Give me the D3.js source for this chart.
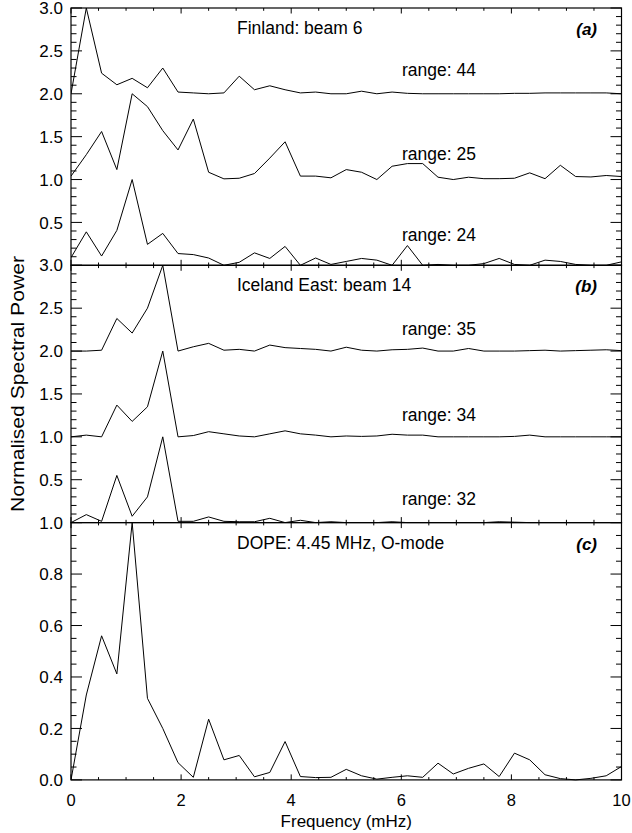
<!DOCTYPE html>
<html>
<head>
<meta charset="utf-8">
<script src="https://cdn.jsdelivr.net/npm/d3@7"></script>
<style>
  body { margin: 0; background: #fff; }
  text { font-family: "Liberation Sans", Arial, sans-serif; fill: #000; }
</style>
</head>
<body>
<script>
// frequency bins (mHz)
var freq = [0, 0.278, 0.556, 0.833, 1.111, 1.389, 1.667, 1.944, 2.222, 2.5, 2.778, 3.056, 3.333,
  3.611, 3.889, 4.167, 4.444, 4.722, 5.0, 5.278, 5.556, 5.833, 6.111, 6.389, 6.667, 6.944,
  7.222, 7.5, 7.778, 8.056, 8.333, 8.611, 8.889, 9.167, 9.444, 9.722, 10.0];

// normalised power, panel (a) Finland beam 6
var fin44 = [0.0, 1.0, 0.24, 0.105, 0.18, 0.07, 0.30, 0.02, 0.01, 0.0, 0.01, 0.205, 0.047, 0.093,
  0.047, 0.01, 0.02, 0.0, 0.0, 0.03, 0.0, 0.02, 0.005, 0.0, 0.0, 0.0, 0.0, 0.0, 0.0, 0.005, 0.005,
  0.01, 0.01, 0.01, 0.01, 0.01, 0.0];
var fin25 = [0.04, 0.29, 0.56, 0.116, 1.0, 0.85, 0.57, 0.345, 0.705, 0.085, 0.008, 0.015, 0.07,
  0.25, 0.44, 0.04, 0.04, 0.02, 0.116, 0.085, 0.0, 0.155, 0.186, 0.186, 0.027, 0.0, 0.027, 0.01,
  0.01, 0.015, 0.078, 0.01, 0.166, 0.035, 0.03, 0.047, 0.035];
var fin24 = [0.09, 0.39, 0.108, 0.407, 1.0, 0.244, 0.372, 0.137, 0.125, 0.085, 0.0, 0.035, 0.145,
  0.08, 0.22, 0.0, 0.085, 0.01, 0.045, 0.08, 0.06, 0.0, 0.23, 0.0, 0.01, 0.0, 0.0, 0.02, 0.08,
  0.01, 0.0, 0.06, 0.045, 0.01, 0.0, 0.0, 0.04];

// panel (b) Iceland East beam 14
var ice35 = [0.0, 0.0, 0.01, 0.38, 0.21, 0.50, 1.0, 0.0, 0.05, 0.09, 0.01, 0.02, 0.0, 0.07, 0.04,
  0.03, 0.02, 0.0, 0.045, 0.01, 0.0, 0.015, 0.02, 0.035, 0.0, 0.0, 0.03, 0.0, 0.0, 0.0, 0.005,
  0.01, 0.0, 0.005, 0.01, 0.015, 0.005];
var ice34 = [0.0, 0.02, 0.0, 0.37, 0.18, 0.35, 1.0, 0.0, 0.015, 0.06, 0.035, 0.01, 0.0, 0.035,
  0.07, 0.035, 0.02, 0.0, 0.01, 0.005, 0.01, 0.03, 0.02, 0.02, 0.0, 0.0, 0.0, 0.0, 0.0, 0.005,
  0.02, 0.0, 0.0, 0.0, 0.0, 0.0, 0.0];
var ice32 = [0.0, 0.093, 0.015, 0.55, 0.074, 0.30, 1.0, 0.015, 0.015, 0.066, 0.015, 0.01, 0.01,
  0.05, 0.0, 0.027, 0.0, 0.01, 0.0, 0.0, 0.0, 0.01, 0.0, 0.0, 0.0, 0.0, 0.0, 0.0, 0.01, 0.005,
  0.0, 0.0, 0.0, 0.0, 0.0, 0.0, 0.0];

// panel (c) DOPE
var dope = [0.0, 0.33, 0.56, 0.412, 1.0, 0.317, 0.20, 0.067, 0.01, 0.236, 0.078, 0.095, 0.012,
  0.029, 0.149, 0.013, 0.009, 0.01, 0.041, 0.016, 0.003, 0.01, 0.016, 0.01, 0.065, 0.023, 0.045,
  0.062, 0.013, 0.104, 0.078, 0.02, 0.005, 0.0, 0.006, 0.016, 0.052];

var xTicks = [0, 2, 4, 6, 8, 10];
var stackTicks = [0.5, 1.0, 1.5, 2.0, 2.5, 3.0];
var singleTicks = [0.0, 0.2, 0.4, 0.6, 0.8, 1.0];

var panels = [
  { title: "Finland: beam 6", tag: "(a)", series: [fin44, fin25, fin24], offsets: [2, 1, 0],
    names: ["range: 44", "range: 25", "range: 24"], nameY: [2.21, 1.23, 0.28],
    ymax: 3, ticks: stackTicks, minor: 0.1 },
  { title: "Iceland East: beam 14", tag: "(b)", series: [ice35, ice34, ice32], offsets: [2, 1, 0],
    names: ["range: 35", "range: 34", "range: 32"], nameY: [2.19, 1.18, 0.2],
    ymax: 3, ticks: stackTicks, minor: 0.1 },
  { title: "DOPE: 4.45 MHz, O-mode", tag: "(c)", series: [dope], offsets: [0],
    names: [], nameY: [], ymax: 1, ticks: singleTicks, minor: 0.05 }
];

var width = 632, height = 833;
var plotL = 71, plotR = 621.5, plotT = 8, panelH = 257.3;

var svg = d3.select("body").append("svg")
  .attr("width", width).attr("height", height);

var x = d3.scaleLinear().domain([0, 10]).range([plotL, plotR]);

panels.forEach(function(p, k) {
  var y0 = plotT + k * panelH, y1 = y0 + panelH;
  var y = d3.scaleLinear().domain([0, p.ymax]).range([y1, y0]);
  var g = svg.append("g");

  g.append("clipPath").attr("id", "clip" + k)
    .append("rect").attr("x", plotL).attr("y", y0 - 1)
    .attr("width", plotR - plotL).attr("height", panelH + 2);

  // lines
  var line = d3.line().x(function(d, i) { return x(freq[i]); });
  p.series.forEach(function(s, j) {
    line.y(function(d) { return y(d + p.offsets[j]); });
    g.append("path").datum(s)
      .attr("d", line)
      .attr("fill", "none").attr("stroke", "#000").attr("stroke-width", 1)
      .attr("clip-path", "url(#clip" + k + ")");
  });

  // frame
  g.append("rect").attr("x", plotL).attr("y", y0)
    .attr("width", plotR - plotL).attr("height", panelH)
    .attr("fill", "none").attr("stroke", "#000").attr("stroke-width", 1.2);

  // x ticks, inward on top and bottom
  var xMinor = d3.range(0, 10.01, 0.5);
  xMinor.forEach(function(v) {
    var len = (v % 2 === 0) ? 5.5 : 2.8;
    g.append("line").attr("x1", x(v)).attr("x2", x(v)).attr("y1", y1).attr("y2", y1 - len)
      .attr("stroke", "#000");
    g.append("line").attr("x1", x(v)).attr("x2", x(v)).attr("y1", y0).attr("y2", y0 + len)
      .attr("stroke", "#000");
  });

  // y ticks, inward on left and right
  var step = p.ticks[1] - p.ticks[0];
  var n = Math.round(p.ymax / p.minor);
  d3.range(0, n + 1).forEach(function(i) {
    var v = i * p.minor;
    var major = Math.abs(v / step - Math.round(v / step)) < 1e-6;
    var len = major ? 11 : 5.5;
    g.append("line").attr("x1", plotL).attr("x2", plotL + len).attr("y1", y(v)).attr("y2", y(v))
      .attr("stroke", "#000");
    g.append("line").attr("x1", plotR).attr("x2", plotR - len).attr("y1", y(v)).attr("y2", y(v))
      .attr("stroke", "#000");
  });

  // y tick labels
  g.selectAll(".yl").data(p.ticks).enter().append("text")
    .attr("x", 63).attr("y", function(d) { return y(d); })
    .attr("dy", "0.36em")
    .attr("text-anchor", "end").attr("font-size", 17)
    .text(function(d) { return d.toFixed(1); });

  // titles
  g.append("text").attr("x", 237).attr("y", y0 + 26)
    .attr("font-size", 17.5).text(p.title);
  g.append("text").attr("x", 597).attr("y", y0 + 27)
    .attr("text-anchor", "end").attr("font-size", 17)
    .attr("font-weight", "bold").attr("font-style", "italic").text(p.tag);

  p.names.forEach(function(nm, j) {
    g.append("text").attr("x", 402).attr("y", y(p.nameY[j]))
      .attr("font-size", 17.5).text(nm);
  });
});

// x axis labels
var yb = plotT + 3 * panelH;
svg.selectAll(".xl").data(xTicks).enter().append("text")
  .attr("x", function(d) { return x(d); }).attr("y", yb + 26)
  .attr("text-anchor", "middle").attr("font-size", 16.5)
  .text(function(d) { return d; });

svg.append("text").attr("x", (plotL + plotR) / 2).attr("y", yb + 47)
  .attr("text-anchor", "middle").attr("font-size", 17)
  .text("Frequency (mHz)");

svg.append("text")
  .attr("transform", "translate(24," + 384 + ") rotate(-90)")
  .attr("text-anchor", "middle").attr("font-size", 19)
  .attr("textLength", 256).attr("lengthAdjust", "spacingAndGlyphs")
  .text("Normalised Spectral Power");
</script>
</body>
</html>
